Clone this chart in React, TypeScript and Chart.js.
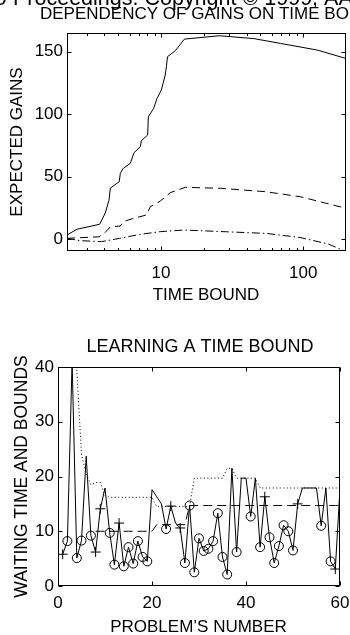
import React, { useEffect, useRef } from "react";
import { Chart, registerables } from "chart.js";

Chart.register(...registerables);

const FONT = "'Liberation Sans', Arial, Helvetica, sans-serif";

// ---------- Top chart: dependency of gains on time bound ----------
const solidBounds = [2.18, 2.56, 3.7, 4.05, 4.3, 4.4, 5.08, 5.17, 5.42, 6.08, 6.45, 7.15, 7.27, 8.05, 8.14, 8.87, 9.37, 10.05, 10.7, 10.9, 11.1, 12.6, 14.6, 25.7, 45, 69, 126, 200];
const solidGains = [3.2, 7.8, 11.8, 20.8, 31, 40.8, 45.9, 52.6, 56.6, 60.6, 69.1, 73.9, 78.7, 83.3, 97.9, 104.6, 112.6, 119.3, 131.3, 138, 146, 150.8, 160.1, 162.8, 160.5, 156.7, 151.3, 144.6];

const dashedBounds = [2.18, 3.68, 4.05, 4.4, 5.17, 5.43, 6.38, 7.88, 8.41, 9.89, 11.6, 14.8, 26.2, 54.3, 95.3, 200];
const dashedGains = [0.5, 1.8, 5.3, 9.8, 10.4, 13.9, 16.5, 19.2, 25.9, 30.4, 37.1, 41.4, 40.6, 37.9, 33.9, 24.6];

const dashDotBounds = [2.18, 2.7, 3.8, 5.1, 7.1, 9.9, 14.5, 26, 55, 95, 150, 200];
const dashDotGains = [0.5, -1.3, -2.1, 0.5, 3.7, 5.9, 7.2, 6.0, 4.5, 1.2, -4.0, -10];

const topYTicks = [0, 50, 100, 150];
const topXTicks = [10, 100];
const topXMinorTicks = [3, 4, 5, 6, 7, 8, 9, 20, 30, 40, 50, 60, 70, 80, 90];

// ---------- Bottom chart: learning a time bound ----------
const problemNumbers = [
  1, 2, 3, 4, 5, 6, 7, 8, 9, 10, 11, 12, 13, 14, 15, 16, 17, 18, 19, 20,
  21, 22, 23, 24, 25, 26, 27, 28, 29, 30, 31, 32, 33, 34, 35, 36, 37, 38, 39, 40,
  41, 42, 43, 44, 45, 46, 47, 48, 49, 50, 51, 52, 53, 54, 55, 56, 57, 58, 59, 60,
];
const waitingTimes = [
  5.8, 8.2, 41, 5.1, 8.3, 23.7, 9.2, 6.2, 14.1, 17.9,
  9.7, 3.9, 11.5, 3.6, 7.1, 4.1, 8.2, 5.3, 4.5, 17.6,
  16.3, 15.0, 10.4, 14.6, 11.5, 10.6, 4.2, 14.7, 2.5, 8.7,
  6.4, 6.8, 8.2, 13.3, 5.3, 2.1, 21.5, 6.2, 19.7, 19.7,
  12.7, 19.7, 7.1, 16.3, 8.9, 4.2, 7.3, 11.1, 10.0, 6.5,
  15.0, 17.9, 17.9, 17.9, 17.9, 11.0, 17.9, 4.5, 3.1, 17.9,
];
const circleProblems = [2, 4, 5, 7, 11, 12, 14, 15, 16, 17, 18, 19, 23, 27, 28, 29, 30, 31, 32, 33, 34, 35, 36, 38, 41, 43, 45, 46, 47, 48, 49, 50, 56, 58];
const crossProblems = [1, 8, 9, 13, 24, 26, 44, 51, 59];
const upperBounds = [
  null, null, null, 39.5, 24, 20.5, 18.5, 18.9, 18.9, 16.5,
  16.2, 16.2, 16.2, 16.2, 16.2, 16.2, 16.2, 16.2, 16.2, 16.2,
  14.5, 14.5, 14.5, 14.5, 14.5, 14.5, 14.5, 14.5, 19.7, 19.7,
  19.7, 19.7, 19.7, 19.7, 19.7, 21.5, 21.5, 19.7, 19.7, 19.7,
  19.7, 19.7, 17.9, 17.9, 17.9, 17.9, 17.9, 17.9, 17.9, 17.9,
  17.9, 17.9, 17.9, 17.9, 17.9, 17.9, 17.9, 17.9, 17.9, 17.9,
];
const lowerBounds = [
  null, null, null, null, null, null, null, 10, 10, 10,
  10, 10, 10, 10, 10, 10, 10, 10, 10, 10,
  11.2, 11.2, 11.2, 11.2, 11.2, 11.2, 11.2, 14.7, 14.7, 14.7,
  14.7, 14.7, 14.7, 14.7, 14.7, 14.7, 14.7, 14.7, 14.7, 14.7,
  14.7, 14.7, 14.7, 14.7, 14.7, 14.7, 14.7, 14.7, 14.7, 14.7,
  14.7, 14.7, 14.7, 14.7, 14.7, 14.7, 14.7, 14.7, 14.7, 14.7,
];
const bottomXTicks = [0, 20, 40, 60];
const bottomYTicks = [0, 10, 20, 30, 40];

type TextItem = { text: string; x: number; y: number; size: number; align: CanvasTextAlign; rotate?: boolean; offsetWord?: string };

function framePlugin(id: string, xMajor: number[], xMinor: number[], yMajor: number[], texts: TextItem[]) {
  return {
    id,
    afterDraw(chart: any) {
      const { ctx, chartArea: a, scales } = chart;
      ctx.save();
      ctx.strokeStyle = "#000";
      ctx.lineWidth = 1;
      const L = Math.round(a.left) + 0.5;
      const R = Math.round(a.right) - 0.5;
      const T = Math.round(a.top) + 0.5;
      const B = Math.round(a.bottom) - 0.5;
      ctx.strokeRect(L, T, R - L, B - T);
      ctx.beginPath();
      const tick = (v: number, len: number) => {
        const px = Math.round(scales.x.getPixelForValue(v)) + 0.5;
        ctx.moveTo(px, B);
        ctx.lineTo(px, B - len);
        ctx.moveTo(px, T);
        ctx.lineTo(px, T + len);
      };
      xMajor.forEach((v) => tick(v, 4));
      xMinor.forEach((v) => tick(v, 2.5));
      yMajor.forEach((v) => {
        const py = Math.round(scales.y.getPixelForValue(v)) + 0.5;
        ctx.moveTo(L, py);
        ctx.lineTo(L + 4, py);
        ctx.moveTo(R, py);
        ctx.lineTo(R - 4, py);
      });
      ctx.stroke();
      ctx.fillStyle = "#000";
      texts.forEach((t) => {
        ctx.save();
        ctx.font = `${t.size}px ${FONT}`;
        ctx.textBaseline = "alphabetic";
        ctx.textAlign = t.align;
        let x = t.x;
        if (t.offsetWord) x = t.x - ctx.measureText(t.offsetWord).width;
        if (t.rotate) {
          ctx.translate(x, t.y);
          ctx.rotate(-Math.PI / 2);
          ctx.fillText(t.text, 0, 0);
        } else {
          ctx.fillText(t.text, x, t.y);
        }
        ctx.restore();
      });
      ctx.restore();
    },
  };
}

function baseScale(extra: any) {
  const { ticks, ...rest } = extra;
  return {
    grid: { display: false, drawTicks: false },
    border: { display: false },
    ...rest,
    ticks: { font: { family: FONT, size: 17 }, color: "#000", autoSkip: false, maxRotation: 0, ...(ticks || {}) },
  };
}

function pairs(xs: number[], ys: (number | null)[]) {
  return xs.map((x, i) => ({ x, y: ys[i] }));
}

export default function App() {
  const topRef = useRef<HTMLCanvasElement>(null);
  const botRef = useRef<HTMLCanvasElement>(null);

  useEffect(() => {
    const lineDs = (data: any[], dash: number[]) => ({
      data,
      borderColor: "#000",
      borderWidth: 1,
      borderDash: dash,
      pointRadius: 0,
      fill: false,
      tension: 0,
    });

    const topChart = new Chart(topRef.current as HTMLCanvasElement, {
      type: "line",
      data: {
        datasets: [
          lineDs(pairs(solidBounds, solidGains), []),
          lineDs(pairs(dashedBounds, dashedGains), [8, 5]),
          lineDs(pairs(dashDotBounds, dashDotGains), [8, 3, 1.5, 3]),
        ] as any,
      },
      options: {
        responsive: false,
        animation: false,
        layout: { padding: { left: 0, right: 4, top: 33, bottom: 0 } },
        plugins: { legend: { display: false }, tooltip: { enabled: false }, title: { display: false } },
        scales: {
          x: baseScale({
            type: "logarithmic",
            min: 2.18,
            max: 200,
            bounds: "data",
            ticks: { padding: 12, callback: (v: any) => String(v) },
            afterBuildTicks: (s: any) => {
              s.ticks = topXTicks.map((v) => ({ value: v }));
            },
            afterFit: (s: any) => {
              s.height = 59;
              s.paddingLeft = 0;
              s.paddingRight = 0;
            },
          }),
          y: baseScale({
            type: "linear",
            min: -9.6,
            max: 165,
            ticks: { padding: 4, callback: (v: any) => String(v) },
            afterBuildTicks: (s: any) => {
              s.ticks = topYTicks.map((v) => ({ value: v }));
            },
            afterFit: (s: any) => {
              s.width = 67;
              s.paddingTop = 0;
              s.paddingBottom = 0;
            },
          }),
        },
      } as any,
      plugins: [
        framePlugin("frameTop", topXTicks, topXMinorTicks, topYTicks, [
          { text: "From: AAAI-99 Proceedings. Copyright \u00a9 1999, AAAI (www.aaai.org). All rights reserved.", x: 13, y: 5, size: 21.5, align: "left", offsetWord: "From: AAAI-99 " },
          { text: "DEPENDENCY OF GAINS ON TIME BOUND", x: 40, y: 18.5, size: 17, align: "left" },
          { text: "EXPECTED GAINS", x: 22, y: 142, size: 17, align: "center", rotate: true },
          { text: "TIME BOUND", x: 206, y: 300, size: 17, align: "center" },
        ]),
      ],
    });

    const waitingPts = pairs(problemNumbers, waitingTimes);
    const pick = (list: number[]) => waitingPts.filter((p) => list.includes(p.x));

    const botChart = new Chart(botRef.current as HTMLCanvasElement, {
      type: "line",
      data: {
        datasets: [
          lineDs(pairs(problemNumbers, upperBounds), [1, 2.5]),
          lineDs(pairs(problemNumbers, lowerBounds), [9, 5]),
          lineDs(waitingPts, []),
          {
            data: pick(circleProblems),
            showLine: false,
            pointStyle: "circle",
            pointRadius: 4.5,
            pointBorderColor: "#000",
            pointBackgroundColor: "rgba(0,0,0,0)",
            pointBorderWidth: 1,
            borderColor: "#000",
          },
          {
            data: pick(crossProblems),
            showLine: false,
            pointStyle: "cross",
            pointRadius: 5,
            pointBorderColor: "#000",
            pointBorderWidth: 1,
            borderColor: "#000",
          },
        ] as any,
      },
      options: {
        responsive: false,
        animation: false,
        layout: { padding: { left: 0, right: 10, top: 57, bottom: 0 } },
        plugins: { legend: { display: false }, tooltip: { enabled: false }, title: { display: false } },
        scales: {
          x: baseScale({
            type: "linear",
            min: 0,
            max: 60,
            ticks: { padding: 7, stepSize: 20 },
            afterBuildTicks: (s: any) => {
              s.ticks = bottomXTicks.map((v) => ({ value: v }));
            },
            afterFit: (s: any) => {
              s.height = 49;
              s.paddingLeft = 0;
              s.paddingRight = 0;
            },
          }),
          y: baseScale({
            type: "linear",
            min: 0,
            max: 40,
            ticks: { padding: 4, stepSize: 10 },
            afterBuildTicks: (s: any) => {
              s.ticks = bottomYTicks.map((v) => ({ value: v }));
            },
            afterFit: (s: any) => {
              s.width = 58;
              s.paddingTop = 0;
              s.paddingBottom = 0;
            },
          }),
        },
      } as any,
      plugins: [
        framePlugin("frameBot", bottomXTicks, [], bottomYTicks, [
          { text: "LEARNING A TIME BOUND", x: 200, y: 41.7, size: 18, align: "center" },
          { text: "WAITING TIME AND BOUNDS", x: 26.5, y: 166.5, size: 17.5, align: "center", rotate: true },
          { text: "PROBLEM\u2019S NUMBER", x: 198.5, y: 321.7, size: 17, align: "center" },
        ]),
      ],
    });

    return () => {
      topChart.destroy();
      botChart.destroy();
    };
  }, []);

  return (
    <div style={{ position: "fixed", left: 0, top: 0, width: 350, height: 635, background: "#fff", overflow: "hidden" }}>
      <canvas ref={topRef} width={350} height={310} style={{ position: "absolute", left: 0, top: 0 }} />
      <canvas ref={botRef} width={350} height={325} style={{ position: "absolute", left: 0, top: 310 }} />
    </div>
  );
}
